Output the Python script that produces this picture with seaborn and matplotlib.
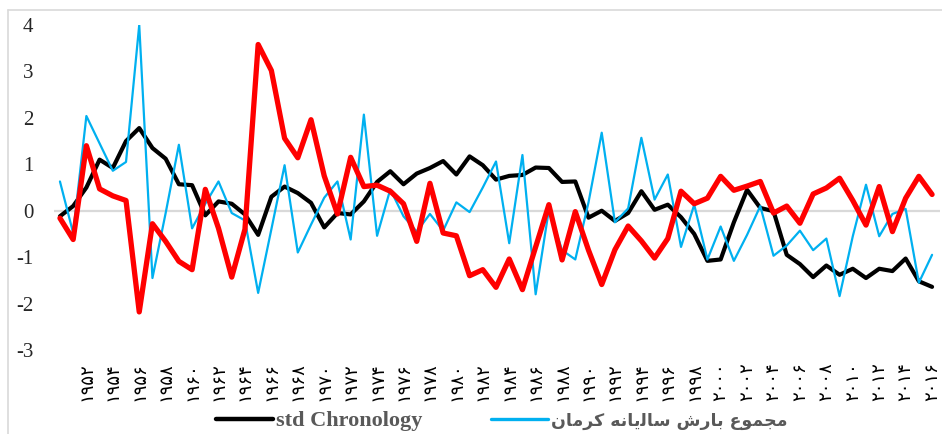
import matplotlib
matplotlib.use('Agg')
import matplotlib.pyplot as plt
import seaborn as sns
from matplotlib.lines import Line2D

# data (1950-2016)
years = list(range(1950, 2017))

std_chronology = [
    -0.12, 0.10, 0.50, 1.10, 0.92, 1.50, 1.78, 1.35, 1.12, 0.57,
    0.55, -0.10, 0.20, 0.15, -0.08, -0.52, 0.30, 0.52, 0.38, 0.17,
    -0.36, -0.05, -0.08, 0.20, 0.62, 0.85, 0.57, 0.80, 0.92, 1.07,
    0.78, 1.17, 0.98, 0.67, 0.75, 0.77, 0.93, 0.92, 0.62, 0.63,
    -0.15, 0.00, -0.22, -0.05, 0.42, 0.02, 0.13, -0.14, -0.50, -1.08,
    -1.05, -0.25, 0.45, 0.06, -0.01, -0.95, -1.15, -1.43, -1.18, -1.38,
    -1.25, -1.45, -1.25, -1.30, -1.03, -1.52, -1.64]

kerman_rain = [
    0.63, -0.48, 2.04, 1.45, 0.86, 1.05, 4.00, -1.45, -0.05, 1.42,
    -0.38, 0.15, 0.63, -0.05, -0.21, -1.77, -0.40, 0.98, -0.90, -0.30,
    0.28, 0.63, -0.62, 2.07, -0.54, 0.46, -0.12, -0.45, -0.07, -0.43,
    0.18, -0.03, 0.50, 1.06, -0.70, 1.20, -1.80, 0.02, -0.85, -1.05,
    0.18, 1.68, -0.25, 0.05, 1.57, 0.24, 0.78, -0.78, 0.13, -1.05,
    -0.34, -1.08, -0.52, 0.10, -0.97, -0.75, -0.43, -0.85, -0.60, -1.84,
    -0.55, 0.56, -0.55, -0.07, 0.04, -1.55, -0.95]

third_series = [
    -0.16, -0.62, 1.40, 0.47, 0.32, 0.22, -2.18, -0.28, -0.66, -1.09,
    -1.27, 0.46, -0.38, -1.43, -0.40, 3.58, 3.02, 1.56, 1.14, 1.96,
    0.75, -0.07, 1.15, 0.52, 0.55, 0.42, 0.15, -0.66, 0.59, -0.48,
    -0.54, -1.40, -1.27, -1.65, -1.04, -1.70, -0.78, 0.13, -1.06, -0.02,
    -0.85, -1.59, -0.84, -0.33, -0.65, -1.02, -0.60, 0.42, 0.15, 0.27,
    0.74, 0.44, 0.53, 0.63, -0.05, 0.10, -0.27, 0.36, 0.49, 0.70,
    0.22, -0.31, 0.52, -0.45, 0.27, 0.74, 0.35]

tick_years = list(range(1952, 2017, 2))
tick_labels = ['۱۹۵۲', '۱۹۵۴', '۱۹۵۶', '۱۹۵۸', '۱۹۶۰', '۱۹۶۲', '۱۹۶۴', '۱۹۶۶',
               '۱۹۶۸', '۱۹۷۰', '۱۹۷۲', '۱۹۷۴', '۱۹۷۶', '۱۹۷۸', '۱۹۸۰', '۱۹۸۲',
               '۱۹۸۴', '۱۹۸۶', '۱۹۸۸', '۱۹۹۰', '۱۹۹۲', '۱۹۹۴', '۱۹۹۶', '۱۹۹۸',
               '۲۰۰۰', '۲۰۰۲', '۲۰۰۴', '۲۰۰۶', '۲۰۰۸', '۲۰۱۰', '۲۰۱۲', '۲۰۱۴',
               '۲۰۱۶']
y_ticks = [-3, -2, -1, 0, 1, 2, 3, 4]

# "مجموع بارش سالیانه کرمان" written with shaped letter forms in visual order,
# since matplotlib does no Arabic-script shaping itself
rain_label = ('\uFEE5\uFE8E\uFEE3\uFEAE\uFB90 '
              '\uFEEA\uFEE7\uFE8E\uFBFE\uFEDF\uFE8E\uFEB3 '
              '\uFEB5\uFEAD\uFE8E\uFE91 '
              '\uFEC9\uFEEE\uFEE4\uFEA0\uFEE3')

sns.set_style('white')
plt.rcParams['axes.unicode_minus'] = False

W, H = 942, 434
fig = plt.figure(figsize=(W / 100, H / 100), dpi=100)
ax = fig.add_axes([54 / W, 1 - 350 / H, (940 - 54) / W, (350 - 25) / H])

ax.axhline(0, color='#d9d9d9', lw=1.6, zorder=0)
sns.lineplot(x=years, y=std_chronology, color='black', lw=3.0, ax=ax,
             label='std Chronology')
sns.lineplot(x=years, y=kerman_rain, color='#00b0f0', lw=1.6, ax=ax,
             label=rain_label)
sns.lineplot(x=years, y=third_series, color='#ff0000', lw=3.8, ax=ax,
             label='_nolegend_')

ax.set_xlim(1949.55, 2016.6)
ax.set_ylim(-3, 4)
for s in ax.spines.values():
    s.set_visible(False)

ax.set_yticks(y_ticks)
ax.set_yticklabels([str(v) for v in y_ticks], fontfamily='Liberation Serif',
                   fontsize=15, color='#262626')
ax.tick_params(axis='y', length=0, pad=15)
ax.set_xticks(tick_years)
ax.set_xticklabels(tick_labels, rotation=90, fontfamily='DejaVu Sans',
                   fontsize=13, color='black')
ax.tick_params(axis='x', length=0, pad=9)
ax.set_xlabel('')
ax.set_ylabel('')

leg = ax.legend(loc='center left', bbox_to_anchor=(205 / W, 1 - 421 / H),
                bbox_transform=fig.transFigure, ncol=2, frameon=False,
                borderpad=0, handlelength=2.55, handletextpad=0.15,
                columnspacing=3.1, prop={'family': 'Liberation Serif',
                                         'weight': 'bold', 'size': 16})
for t in leg.get_texts():
    t.set_color('#595959')
leg.get_texts()[1].set_fontfamily('DejaVu Sans')
leg.get_texts()[1].set_fontsize(12.5)
leg.get_lines()[0].set_linewidth(3.2)
leg.get_lines()[1].set_linewidth(2.4)

# chart area border (only top and left edges are visible)
fig.add_artist(Line2D([8 / W, 8 / W], [0, 1 - 10 / H], transform=fig.transFigure,
                      color='#d9d9d9', lw=1.2))
fig.add_artist(Line2D([8 / W, 1], [1 - 10 / H, 1 - 10 / H], transform=fig.transFigure,
                      color='#d9d9d9', lw=1.2))

fig.savefig('out.png', dpi=100)
